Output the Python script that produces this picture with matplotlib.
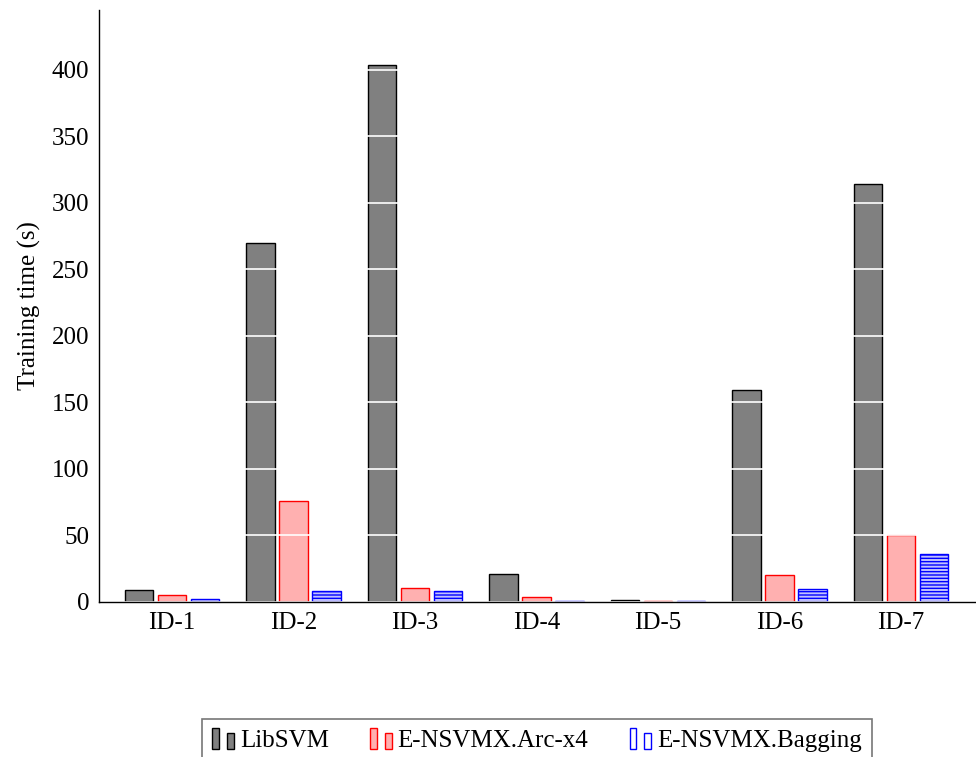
import matplotlib
matplotlib.use("Agg")
import matplotlib.pyplot as plt
import numpy as np
from matplotlib.legend_handler import HandlerBase
from matplotlib.patches import Rectangle

plt.rcParams['font.family'] = ['Liberation Serif', 'DejaVu Serif']
plt.rcParams['hatch.linewidth'] = 1.0

categories = ['ID-1', 'ID-2', 'ID-3', 'ID-4', 'ID-5', 'ID-6', 'ID-7']
libsvm = [9, 270, 404, 21, 1.5, 159, 314]
arc_x4 = [5, 76, 10.5, 3.5, 1, 20, 50]
bagging = [2, 8, 8, 0.8, 0.5, 10, 36]
series_names = ['LibSVM', 'E-NSVMX.Arc-x4', 'E-NSVMX.Bagging']
yticks = [0, 50, 100, 150, 200, 250, 300, 350, 400]

fig = plt.figure(figsize=(9.76, 7.57), dpi=100)
ax = fig.add_axes([99/976, 1 - 602/757, 876/976, 592/757])

x = np.arange(len(categories))
w = 0.235
off = 0.27
styles = [
    dict(facecolor='#808080', edgecolor='black', linewidth=1.0),
    dict(facecolor='#ffb0b0', edgecolor='red', linewidth=1.0),
    dict(facecolor='#c0c0ff', edgecolor='blue', linewidth=1.0, hatch='-----'),
]
legend_styles = [
    dict(facecolor='#808080', edgecolor='black', linewidth=1.0),
    dict(facecolor='#ffb0b0', edgecolor='red', linewidth=1.0),
    dict(facecolor='white', edgecolor='blue', linewidth=1.0),
]
bars = []
for i, (vals, st) in enumerate(zip([libsvm, arc_x4, bagging], styles)):
    b = ax.bar(x + (i - 1) * off, vals, width=w, zorder=2, **st)
    bars.append(b)

ax.set_xlim(-0.601, 6.609)
ax.set_ylim(0, 445)
ax.set_yticks(yticks)
ax.set_xticks(x)
ax.set_xticklabels(categories)
ax.tick_params(axis='both', length=0, labelsize=18, pad=7)
ax.yaxis.grid(True, color='white', linewidth=1.2, zorder=3)
ax.set_axisbelow(False)
for s in ['top', 'right']:
    ax.spines[s].set_visible(False)
for s in ['left', 'bottom']:
    ax.spines[s].set_linewidth(1.0)
    ax.spines[s].set_zorder(4)
ax.set_ylabel('Training time (s)', fontsize=18, labelpad=8)


class TwoBarHandler(HandlerBase):
    def __init__(self, style):
        super().__init__()
        self.style = style

    def create_artists(self, legend, orig_handle, xdescent, ydescent, width, height, fontsize, trans):
        r1 = Rectangle((0, -0.1 * height), 0.3 * width, 1.2 * height,
                       transform=trans, **self.style)
        r2 = Rectangle((0.68 * width, -0.1 * height), 0.3 * width, 0.88 * height,
                       transform=trans, **self.style)
        return [r1, r2]


handles = [b[0] for b in bars]
leg = fig.legend(handles, series_names, loc='upper center', bbox_to_anchor=(537/976, 1 - 719/757),
                 ncol=3, fontsize=18, frameon=True, fancybox=False, edgecolor='#555555',
                 handlelength=0.88, handletextpad=0.22, columnspacing=1.65, borderpad=0.42,
                 borderaxespad=0.0,
                 handler_map={h: TwoBarHandler(dict(st)) for h, st in zip(handles, legend_styles)})
leg.get_frame().set_linewidth(1.2)

fig.savefig('out.png', dpi=100)
